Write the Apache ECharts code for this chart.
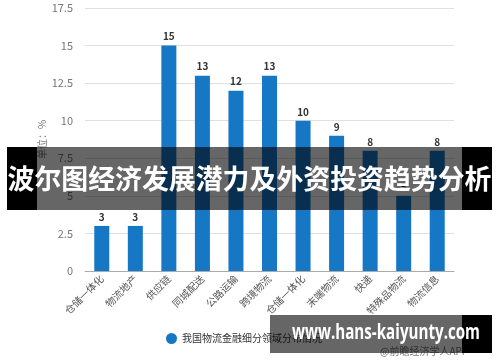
<!DOCTYPE html>
<html>
<head>
<meta charset="utf-8">
<script src="https://cdn.jsdelivr.net/npm/echarts@6/dist/echarts.min.js"></script>
<style>
html,body{margin:0;padding:0;background:#fff;}
#c{width:500px;height:362px;}
</style>
</head>
<body>
<div id="c"></div>
<script>
var categories = ['仓储一体化','物流地产','供应链','同城配送','公路运输','跨境物流','仓储一体化','末端物流','快递','特殊品物流','物流信息'];
var values = [3,3,15,13,12,13,10,9,8,5,8];
var seriesName = '我国物流金融细分领域分布情况';
var yTicks = [0,2.5,5,7.5,10,12.5,15,17.5];
var bannerTitle = '波尔图经济发展潜力及外资投资趋势分析';
var bannerUrl = 'www.hans-kaiyunty.com';
var sourceText = '@前瞻经济学人APP';

var font = '"Noto Sans CJK SC", "Noto Sans", sans-serif';
function fitScale(text, fontStr, target) {
  var ctx = document.createElement('canvas').getContext('2d');
  ctx.font = fontStr;
  return target / ctx.measureText(text).width;
}
var titleFont = 'bold 27px ' + font;
var urlFont = 'bold 21px "Open Sans", "DejaVu Sans", sans-serif';
var titleScale = fitScale(bannerTitle, titleFont, 484);
var urlScale = fitScale(bannerUrl, urlFont, 188);

var chart = echarts.init(document.getElementById('c'));
chart.setOption({
  animation: false,
  textStyle: {fontFamily: font},
  grid: {left: 85, right: 46, top: 8, bottom: 91},
  legend: {
    data: [seriesName],
    left: 161, top: 328,
    icon: 'circle', itemWidth: 11, itemHeight: 11, itemGap: 6,
    textStyle: {fontSize: 10, color: '#333', fontFamily: font}
  },
  xAxis: {
    type: 'category',
    data: categories,
    axisLine: {lineStyle: {color: '#aaa'}},
    axisTick: {alignWithLabel: true, length: 4, lineStyle: {color: '#aaa'}},
    axisLabel: {rotate: 45, fontSize: 10, color: '#555', margin: 6, interval: 0}
  },
  yAxis: {
    type: 'value',
    min: yTicks[0], max: yTicks[yTicks.length-1], interval: 2.5,
    name: '单位：%',
    nameLocation: 'middle', nameGap: 38, nameRotate: 90, nameMoveOverlap: false,
    nameTextStyle: {fontSize: 10, color: '#777'},
    axisLine: {show: false}, axisTick: {show: false},
    axisLabel: {fontSize: 11, color: '#777', margin: 12},
    splitLine: {lineStyle: {color: '#e0e0e0'}}
  },
  series: [{
    name: seriesName,
    type: 'bar',
    data: values,
    barWidth: 15,
    itemStyle: {color: '#1677c5'},
    label: {show: true, position: 'top', fontSize: 10, fontWeight: 'bold', color: '#333', distance: 4}
  }],
  graphic: [
    {type: 'text', left: 380, top: 346, z: 10,
     style: {text: sourceText, font: '10px ' + font, fill: '#777'}},
    {type: 'rect', shape: {x: 7, y: 147, width: 30, height: 63}, style: {fill: '#000'}, z: 100},
    {type: 'rect', shape: {x: 462, y: 147, width: 30, height: 63}, style: {fill: '#000'}, z: 100},
    {type: 'rect', shape: {x: 37, y: 147, width: 425, height: 63}, style: {fill: 'rgba(0,0,0,0.6)'}, z: 100},
    {type: 'text', x: 249.5, y: 179, scaleX: titleScale, scaleY: 1, z: 101,
     style: {text: bannerTitle, font: titleFont, fill: '#fff', textAlign: 'center', textVerticalAlign: 'middle'}},
    {type: 'rect', shape: {x: 462, y: 315, width: 30, height: 38}, style: {fill: '#000'}, z: 100},
    {type: 'rect', shape: {x: 270, y: 315, width: 192, height: 38}, style: {fill: 'rgba(0,0,0,0.6)'}, z: 100},
    {type: 'text', x: 386, y: 333, scaleX: urlScale, scaleY: 1, z: 101,
     style: {text: bannerUrl, font: urlFont, fill: '#fff', textAlign: 'center', textVerticalAlign: 'middle'}}
  ]
});
</script>
</body>
</html>
